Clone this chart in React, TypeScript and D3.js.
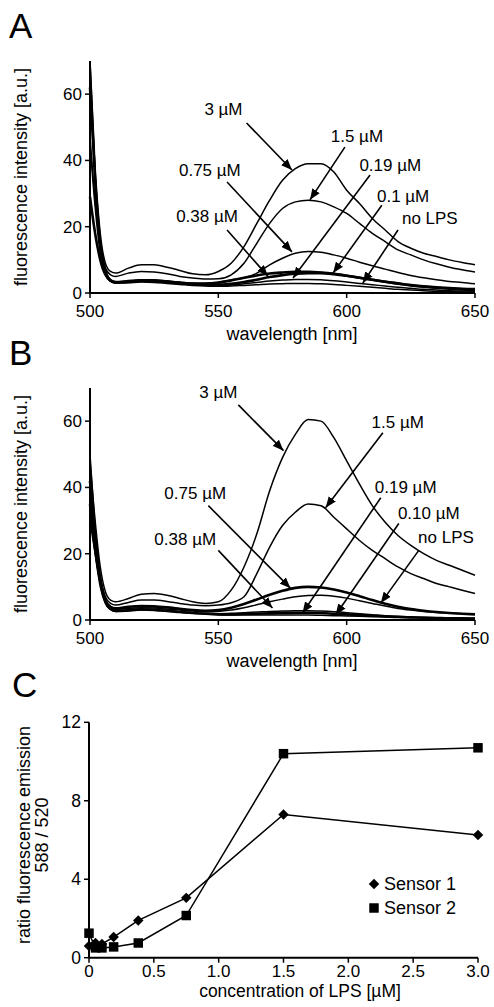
import React from 'react';
import * as d3 from 'd3';

// wavelength grid shared by every spectrum (nm)
const wavelengths = [500, 502, 504, 506, 508, 510, 515, 520, 525, 530, 535, 540, 545, 550, 555, 560, 565, 570, 575, 580, 585, 590, 595, 600, 605, 610, 615, 620, 625, 630, 635, 640, 645, 650];

// panel A spectra
const a3 = [70, 38, 18, 9, 6.5, 6, 7.5, 8.5, 8.5, 7.8, 6.8, 5.8, 5.5, 6.5, 9, 14, 21, 28, 34, 37.5, 39, 39, 36.5, 31, 27, 22.5, 19, 15.5, 13.5, 12, 11, 10, 9.2, 8.5];
const a15 = [47, 28, 14, 7.5, 5.5, 5, 6, 6.5, 6.3, 5.8, 5, 4.5, 4.2, 4.3, 5.5, 9, 15, 21, 25.5, 27.5, 28, 27.5, 26, 24, 21, 18, 15.5, 13, 11.5, 10, 8.8, 7.8, 7, 6.3];
const a075 = [70, 36, 16, 7, 4, 3.3, 3.5, 4, 4, 3.7, 3.3, 3, 3, 3.3, 4, 4.5, 6, 8.5, 10.5, 12, 12.5, 12.3, 11.5, 10.5, 9.3, 8.2, 7.2, 6.2, 5.3, 4.6, 4, 3.5, 3.2, 2.8];
const a038 = [29, 18, 10, 5.5, 3.8, 3.3, 3.6, 3.8, 3.7, 3.4, 3.1, 2.8, 2.7, 3, 3.8, 4.6, 5.3, 5.9, 6.2, 6.4, 6.4, 6.2, 5.8, 5.2, 4.6, 4, 3.4, 2.8, 2.3, 1.9, 1.6, 1.3, 1.1, 1];
const a019 = [45, 26, 12, 5.5, 3.5, 3, 3.2, 3.5, 3.4, 3.1, 2.8, 2.5, 2.3, 2.2, 2.4, 2.8, 3.2, 3.6, 3.9, 4.1, 4.1, 4, 3.7, 3.3, 2.9, 2.5, 2.1, 1.7, 1.4, 1.1, 0.9, 0.7, 0.6, 0.5];
const a01 = [62, 34, 15, 6.5, 3.8, 3.2, 3.4, 3.7, 3.6, 3.3, 3, 2.7, 2.5, 2.5, 2.8, 3.3, 4, 4.8, 5.4, 5.8, 6, 6, 5.7, 5.2, 4.6, 4, 3.4, 2.9, 2.4, 2, 1.7, 1.5, 1.3, 1.2];
const aNone = [66, 35, 15, 6, 3.5, 3, 3.1, 3.3, 3.2, 2.9, 2.6, 2.3, 2.1, 2, 2.1, 2.3, 2.5, 2.7, 2.8, 2.9, 2.9, 2.8, 2.6, 2.3, 2, 1.7, 1.4, 1.1, 0.9, 0.7, 0.5, 0.4, 0.3, 0.2];

// panel B spectra
const b3 = [48, 30, 16, 8.5, 6, 5.5, 6.5, 7.8, 8, 7.5, 6.5, 5.5, 5, 5.5, 9, 16, 26, 39, 49, 56, 60.5, 60, 55, 48, 41, 34.5, 29.5, 25.5, 22.5, 20, 18, 16.5, 15, 13.5];
const b15 = [38, 24, 13, 7, 5, 4.5, 5.3, 6, 6, 5.6, 5, 4.5, 4.3, 4.5, 5.2, 7, 14, 22, 28.5, 32.5, 35, 34.5, 31, 27.5, 24, 21, 18.5, 16, 14, 12.5, 11, 10, 9, 8];
const b075 = [35, 22, 12, 6, 4, 3.5, 4, 4.2, 4.1, 3.8, 3.4, 3, 2.8, 3, 3.7, 4.8, 6.2, 7.6, 8.8, 9.7, 10, 9.8, 9.2, 8.3, 7.2, 6, 4.9, 4, 3.3, 2.8, 2.4, 2.1, 1.9, 1.7];
const b038 = [30, 20, 11, 5.5, 3.6, 3.2, 3.5, 3.7, 3.6, 3.3, 3, 2.7, 2.5, 2.6, 3, 3.7, 4.6, 5.5, 6.3, 7, 7.4, 7.5, 7.2, 6.6, 5.8, 5, 4.2, 3.5, 3, 2.6, 2.3, 2.1, 1.9, 1.8];
const b019 = [50, 28, 13, 6, 3.5, 2.8, 3, 3.3, 3.2, 2.9, 2.5, 2.2, 2, 1.9, 2, 2.2, 2.4, 2.6, 2.7, 2.8, 2.8, 2.7, 2.5, 2.2, 1.9, 1.6, 1.3, 1.1, 0.9, 0.8, 0.7, 0.6, 0.5, 0.5];
const b010 = [42, 25, 12, 5.5, 3.3, 2.7, 2.9, 3.2, 3.1, 2.8, 2.4, 2.1, 1.9, 1.7, 1.7, 1.8, 1.9, 2, 2.1, 2.2, 2.2, 2.1, 1.9, 1.7, 1.5, 1.3, 1.1, 0.9, 0.8, 0.7, 0.6, 0.5, 0.5, 0.4];
const bNone = [33, 20, 10, 5, 3.2, 2.6, 2.8, 3, 2.9, 2.6, 2.3, 2, 1.8, 1.6, 1.5, 1.5, 1.5, 1.5, 1.5, 1.5, 1.5, 1.4, 1.3, 1.2, 1.1, 1, 0.9, 0.8, 0.7, 0.6, 0.5, 0.5, 0.4, 0.4];

// label annotations: text anchor, arrow tail, arrow tip (wavelength nm, intensity)
const annotA = [
  { text: '3 µM', t: [552, 53.7], from: [561, 51.3], to: [578.7, 37.1] },
  { text: '1.5 µM', t: [604, 45.5], from: [599.3, 44], to: [585.7, 28.1] },
  { text: '0.19 µM', t: [617, 36.8], from: [609.1, 35.6], to: [579.1, 4.5] },
  { text: '0.1 µM', t: [622, 27.5], from: [613.7, 26.5], to: [594.7, 6] },
  { text: 'no LPS', t: [632.4, 20.8], from: [620, 19], to: [606.3, 3] },
  { text: '0.75 µM', t: [546.7, 35.3], from: [553.4, 33.5], to: [578.7, 12.4] },
  { text: '0.38 µM', t: [545.6, 21.4], from: [553.4, 19], to: [569.3, 5.1] },
];
const annotB = [
  { text: '3 µM', t: [550, 67], from: [557.8, 64.9], to: [575.4, 51.1] },
  { text: '1.5 µM', t: [619.9, 58], from: [614.1, 56.5], to: [591.8, 33.9] },
  { text: '0.19 µM', t: [623, 38.4], from: [613.3, 36.9], to: [582.8, 2.1] },
  { text: '0.10 µM', t: [632, 30.6], from: [620.3, 29.1], to: [595.7, 1.5] },
  { text: 'no LPS', t: [638.7, 23.1], from: [628.1, 21], to: [613.3, 5.1] },
  { text: '0.75 µM', t: [541, 36.6], from: [546.1, 34.5], to: [578.1, 9.6] },
  { text: '0.38 µM', t: [537.1, 22.5], from: [550, 21], to: [571.1, 3.6] },
];

// panel C ratios
const lpsConc = [0, 0.05, 0.1, 0.19, 0.38, 0.75, 1.5, 3.0];
const sensor1 = [0.6, 0.75, 0.7, 1.05, 1.9, 3.05, 7.3, 6.25];
const sensor2 = [1.25, 0.5, 0.5, 0.55, 0.75, 2.15, 10.4, 10.7];

const wlTicks = [500, 550, 600, 650];
const intTicks = [0, 20, 40, 60];
const concTicks = [0, 0.5, 1.0, 1.5, 2.0, 2.5, 3.0];
const ratioTicks = [0, 4, 8, 12];

const FONT = '"Liberation Sans", Arial, Helvetica, sans-serif';

function SpectrumPanel({ letter, bottom, series, thick, annots }) {
  const x = d3.scaleLinear().domain([500, 650]).range([90, 475]);
  const y = d3.scaleLinear().domain([0, 70]).range([bottom, bottom - 232]);
  const line = d3.line<number>()
    .x((_, i) => x(wavelengths[i]))
    .y(d => y(d))
    .curve(d3.curveMonotoneX);
  return (
    <g>
      <text x={9} y={bottom - 255} fontSize={35} fontFamily={FONT}>{letter}</text>
      {series.map((s, i) => (
        <path key={i} d={line(s) || ''} fill="none" stroke="#000"
          strokeWidth={thick.includes(i) ? 2.6 : 1.5} strokeLinejoin="round" />
      ))}
      <line x1={x(500)} x2={x(500)} y1={y(70)} y2={y(0)} stroke="#000" strokeWidth={2} />
      <line x1={x(500)} x2={x(650)} y1={y(0)} y2={y(0)} stroke="#000" strokeWidth={2} />
      {intTicks.map(t => (
        <g key={t}>
          <line x1={x(500) - 5} x2={x(500)} y1={y(t)} y2={y(t)} stroke="#000" strokeWidth={1.5} />
          <text x={x(500) - 8} y={y(t) + 6} textAnchor="end" fontSize={17} fontFamily={FONT}>{t}</text>
        </g>
      ))}
      {wlTicks.map(t => (
        <g key={t}>
          <line x1={x(t)} x2={x(t)} y1={y(0)} y2={y(0) + 5} stroke="#000" strokeWidth={1.5} />
          <text x={x(t)} y={y(0) + 24} textAnchor="middle" fontSize={17} fontFamily={FONT}>{t}</text>
        </g>
      ))}
      <text x={292} y={bottom + 47} textAnchor="middle" fontSize={18} fontFamily={FONT}>wavelength [nm]</text>
      <text transform={`translate(27,${y(35)}) rotate(-90)`} textAnchor="middle" fontSize={18} fontFamily={FONT}>
        fluorescence intensity [a.u.]
      </text>
      {annots.map(a => (
        <g key={a.text}>
          <line x1={x(a.from[0])} y1={y(a.from[1])} x2={x(a.to[0])} y2={y(a.to[1])}
            stroke="#000" strokeWidth={1.6} markerEnd="url(#arrow)" />
          <text x={x(a.t[0])} y={y(a.t[1])} textAnchor="middle" fontSize={17} fontFamily={FONT}>{a.text}</text>
        </g>
      ))}
    </g>
  );
}

function RatioPanel() {
  const x = d3.scaleLinear().domain([0, 3]).range([89, 478]);
  const y = d3.scaleLinear().domain([0, 12]).range([957.7, 722.3]);
  const line = d3.line<number>().x((_, i) => x(lpsConc[i])).y(d => y(d));
  // diamond = square turned 45 degrees, as in the original markers
  const diamond = d3.symbol(d3.symbolSquare, 55)();
  const square = d3.symbol(d3.symbolSquare, 90)();
  return (
    <g>
      <text x={12} y={697} fontSize={35} fontFamily={FONT}>C</text>
      <path d={line(sensor1) || ''} fill="none" stroke="#000" strokeWidth={1.5} />
      <path d={line(sensor2) || ''} fill="none" stroke="#000" strokeWidth={1.5} />
      {sensor1.map((v, i) => (
        <path key={'d' + i} d={diamond || ''} transform={`translate(${x(lpsConc[i])},${y(v)}) rotate(45)`} fill="#000" />
      ))}
      {sensor2.map((v, i) => (
        <path key={'s' + i} d={square || ''} transform={`translate(${x(lpsConc[i])},${y(v)})`} fill="#000" />
      ))}
      <line x1={x(0)} x2={x(0)} y1={y(12)} y2={y(0)} stroke="#000" strokeWidth={2} />
      <line x1={x(0)} x2={x(3)} y1={y(0)} y2={y(0)} stroke="#000" strokeWidth={2} />
      {ratioTicks.map(t => (
        <g key={t}>
          <line x1={x(0) - 5} x2={x(0)} y1={y(t)} y2={y(t)} stroke="#000" strokeWidth={1.5} />
          <text x={x(0) - 8} y={y(t) + 6} textAnchor="end" fontSize={17.5} fontFamily={FONT}>{t}</text>
        </g>
      ))}
      {concTicks.map(t => (
        <g key={t}>
          <line x1={x(t)} x2={x(t)} y1={y(0)} y2={y(0) + 5} stroke="#000" strokeWidth={1.5} />
          <text x={x(t)} y={y(0) + 19} textAnchor="middle" fontSize={17} fontFamily={FONT}>
            {t === 0 ? '0' : t.toFixed(1)}
          </text>
        </g>
      ))}
      <text x={300} y={997} textAnchor="middle" fontSize={17.5} fontFamily={FONT}>concentration of LPS [µM]</text>
      <text transform={`translate(30,835) rotate(-90)`} textAnchor="middle" fontSize={18} fontFamily={FONT}>
        ratio fluorescence emission
      </text>
      <text transform={`translate(48,835) rotate(-90)`} textAnchor="middle" fontSize={18} fontFamily={FONT}>
        588 / 520
      </text>
      <path d={diamond || ''} transform="translate(374,884) rotate(45)" fill="#000" />
      <text x={384} y={890} fontSize={18} fontFamily={FONT}>Sensor 1</text>
      <path d={square || ''} transform="translate(374,908)" fill="#000" />
      <text x={384} y={914} fontSize={18} fontFamily={FONT}>Sensor 2</text>
    </g>
  );
}

export default function App() {
  return (
    <svg width={494} height={1007} style={{ position: 'absolute', left: 0, top: 0, background: '#fff' }}>
      <defs>
        <marker id="arrow" viewBox="0 0 10 8" refX={10} refY={4} markerWidth={11} markerHeight={9}
          markerUnits="userSpaceOnUse" orient="auto">
          <path d="M0,0 L10,4 L0,8 Z" fill="#000" />
        </marker>
      </defs>
      <rect width={494} height={1007} fill="#fff" />
      <SpectrumPanel letter="A" bottom={293}
        series={[a3, a15, a075, a038, a019, a01, aNone]} thick={[3, 5]} annots={annotA} />
      <SpectrumPanel letter="B" bottom={620}
        series={[b3, b15, b075, b038, b019, b010, bNone]} thick={[2, 5]} annots={annotB} />
      <RatioPanel />
    </svg>
  );
}
